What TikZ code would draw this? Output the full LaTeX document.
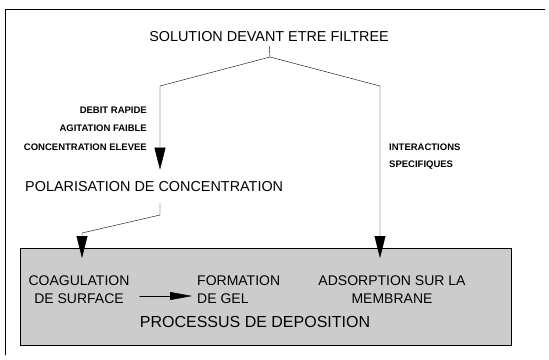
\documentclass[tikz,border=0pt]{standalone}
\usepackage{fontspec}
\setmainfont{Liberation Sans}
\usepackage{tikz}
\usetikzlibrary{arrows.meta}
\usepackage{xcolor}

\begin{document}
\begin{tikzpicture}[x=1pt,y=-1pt,>={Triangle[length=22pt,width=11pt]},line cap=round,
  big/.style={font=\fontsize{14.4}{17}\selectfont,inner sep=0pt},
  small/.style={font=\bfseries\fontsize{9.5}{11}\selectfont,inner sep=0pt},
  boxtext/.style={font=\fontsize{14}{18}\selectfont,inner sep=0pt}]
\useasboundingbox (0,0) rectangle (549,359);
\draw (5,355) -- (5,9) -- (545,9);
\node[big] (solution) at (269,37) {SOLUTION DEVANT ETRE FILTREE};
\coordinate (split) at (270,57);
\coordinate (lcorner) at (160,86);
\coordinate (rcorner) at (380,86);
\node[small,anchor=east] (debit) at (147,110) {DEBIT RAPIDE};
\node[small,anchor=east] (agitation) at (147,128) {AGITATION FAIBLE};
\node[small,anchor=east] (concentr) at (147,147) {CONCENTRATION ELEVEE};
\node[small,anchor=west] (interac) at (389,147) {INTERACTIONS};
\node[small,anchor=west] (specif) at (389,165) {SPECIFIQUES};
\node[big,anchor=west] (polar) at (25,187) {POLARISATION DE CONCENTRATION};
% processus de deposition
\node[draw,fill=gray!40,minimum width=491pt,minimum height=97pt,inner sep=0pt] (depot) at (265.5,296.5) {};
\node[boxtext,align=center] (coag) at (79,290) {COAGULATION\\DE SURFACE};
\node[boxtext,align=left,anchor=west] (gel) at (197,290) {FORMATION\\DE GEL};
\node[boxtext,align=center] (adsorp) at (392,290) {ADSORPTION SUR LA\\MEMBRANE};
\node[font=\fontsize{16}{19}\selectfont,inner sep=0pt] (processus) at (255,322) {PROCESSUS DE DEPOSITION};
\coordinate (pbend) at (160,215);
\coordinate (lbend) at (82,233);
\coordinate (ltip) at (82,258);
\coordinate (rtip) at (380,258);
\draw[shorten <=4pt] (solution.south) -- (split);
\draw[->,shorten >=12pt] (split) -- (lcorner) -- (lcorner |- polar.north);
\draw[->] (split) -- (rcorner) -- (rtip);
\draw[->,shorten <=11pt] (pbend |- polar.south) -- (pbend) -- (lbend) -- (ltip);
\draw[->,>={Triangle[length=22pt,width=8pt]},shorten <=10pt,shorten >=5pt] (coag.east |- 0,296) -- (gel.west |- 0,296);
\end{tikzpicture}
\end{document}
